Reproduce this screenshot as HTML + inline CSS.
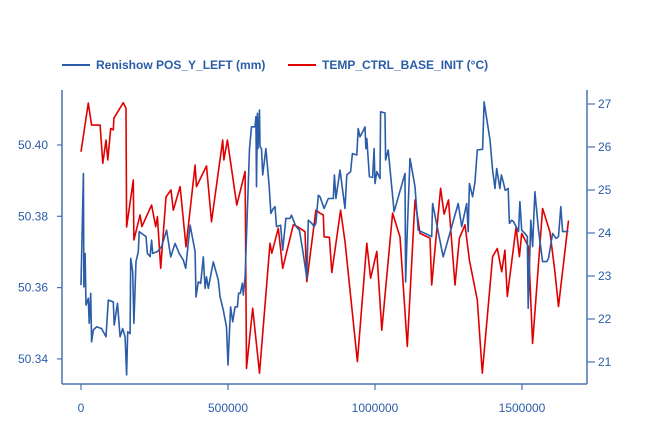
<!DOCTYPE html>
<html><head><meta charset="utf-8"><style>
body{margin:0;background:#fff;}
svg{display:block;font-family:"Liberation Sans",sans-serif;}
</style></head><body>
<svg id="chart" width="645" height="440">
<g id="legend">
 <g>
  <line x1="62" y1="65" x2="90" y2="65" stroke="#2a5ca8" stroke-width="2"/>
  <text x="96" y="69" font-size="12" font-weight="bold" fill="#2a5ca8">Renishow POS_Y_LEFT (mm)</text>
 </g>
 <g>
  <line x1="288" y1="65" x2="316" y2="65" stroke="#e00000" stroke-width="2"/>
  <text x="322" y="69" font-size="12" font-weight="bold" fill="#2a5ca8">TEMP_CTRL_BASE_INIT (°C)</text>
 </g>
</g>
<g id="axes"></g>
<g id="series"></g>
</svg>
<script>
const xTicks=[0,500000,1000000,1500000];
const xTickLabels=["0","500000","1000000","1500000"];
const leftTicks=[50.34,50.36,50.38,50.40];
const leftTickLabels=["50.34","50.36","50.38","50.40"];
const rightTicks=[21,22,23,24,25,26,27];
const rightTickLabels=["21","22","23","24","25","26","27"];
const posX=[0,8,10,14,17,25,28,33,36,42,53,70,85,93,110,113,124,133,142,150,155,159,167,169,176,180,187,195,198,206,221,226,235,240,244,260,274,291,305,320,334,348,356,371,388,391,399,407,416,422,427,433,450,467,473,484,495,500,509,516,524,532,536,542,549,552,558,573,580,592,595,597,600,602,607,609,614,618,629,640,646,654,660,665,679,686,697,711,716,730,743,754,768,773,785,793,799,807,813,827,841,858,862,867,881,898,904,917,923,938,943,949,958,966,969,972,981,992,997,1000,1006,1017,1019,1034,1036,1045,1065,1102,1104,1110,1119,1136,1147,1193,1196,1232,1283,1295,1312,1317,1321,1332,1340,1348,1366,1371,1391,1400,1408,1414,1425,1430,1436,1443,1453,1457,1465,1471,1480,1488,1493,1499,1510,1518,1521,1530,1536,1544,1556,1570,1584,1590,1604,1616,1624,1632,1638,1658];
const posY=[50.3607,50.3920,50.3602,50.3696,50.3551,50.3570,50.3500,50.3584,50.3448,50.3481,50.3490,50.3485,50.3462,50.3565,50.3560,50.3495,50.3556,50.3462,50.3485,50.3462,50.3355,50.3476,50.3471,50.3682,50.3644,50.3500,50.3673,50.3701,50.3757,50.3752,50.3743,50.3696,50.3687,50.3733,50.3696,50.3701,50.3715,50.3761,50.3686,50.3724,50.3696,50.3677,50.3654,50.3775,50.3701,50.3574,50.3616,50.3612,50.3686,50.3598,50.3630,50.3598,50.3672,50.3621,50.3574,50.3537,50.3490,50.3383,50.3546,50.3504,50.3546,50.3546,50.3584,50.3584,50.3612,50.3579,50.3630,50.3990,50.4051,50.4051,50.4079,50.3883,50.4089,50.3990,50.4098,50.3995,50.3990,50.3916,50.3990,50.3883,50.3808,50.3822,50.3827,50.3771,50.3775,50.3705,50.3794,50.3794,50.3803,50.3773,50.3761,50.3705,50.3626,50.3789,50.3780,50.3771,50.3780,50.3859,50.3855,50.3822,50.3850,50.3850,50.3916,50.3850,50.3930,50.3822,50.3916,50.3925,50.3976,50.3972,50.4046,50.4023,50.4037,50.4051,50.3990,50.4018,50.3911,50.3909,50.3990,50.3892,50.3925,50.3906,50.4093,50.4090,50.3958,50.3986,50.3813,50.3920,50.3616,50.3761,50.3962,50.3883,50.3761,50.3743,50.3836,50.3686,50.3836,50.3771,50.3836,50.3757,50.3892,50.3855,50.3897,50.3986,50.3988,50.4121,50.4014,50.3930,50.3878,50.3934,50.3878,50.3916,50.3897,50.3873,50.3878,50.3780,50.3789,50.3785,50.3771,50.3757,50.3841,50.3761,50.3752,50.3743,50.3542,50.3789,50.3715,50.3869,50.3761,50.3673,50.3673,50.3682,50.3752,50.3738,50.3743,50.3827,50.3757,50.3757];
const tempX=[0,25,36,65,74,85,91,101,110,112,144,153,155,178,180,201,207,240,254,260,271,289,306,314,337,357,388,393,427,444,482,486,498,530,558,563,584,607,643,649,671,686,722,736,762,768,799,813,824,827,845,853,883,898,940,972,985,1006,1023,1060,1085,1110,1136,1153,1187,1193,1223,1235,1250,1272,1287,1306,1321,1348,1365,1400,1416,1431,1442,1450,1480,1491,1499,1522,1536,1570,1595,1612,1624,1658];
const tempY=[25.89,27.02,26.51,26.51,25.62,26.16,25.70,26.43,26.40,26.67,27.03,26.90,24.14,25.23,23.84,24.42,24.15,24.65,24.15,24.38,23.18,24.84,25.00,24.53,25.08,23.68,25.58,25.08,25.56,24.26,26.16,25.70,26.16,24.65,25.43,20.85,22.25,20.74,23.76,23.53,24.11,23.18,24.19,24.15,24.03,22.87,24.53,24.46,24.42,23.91,23.90,23.08,24.53,23.80,21.01,23.76,22.95,23.57,21.74,24.46,23.91,21.36,24.77,23.99,23.88,22.79,25.04,24.44,24.77,22.79,23.88,24.19,23.37,22.44,20.74,23.45,23.64,23.10,23.60,22.52,24.14,23.45,23.99,23.68,21.43,24.57,24.03,23.10,22.29,24.29];

const NS="http://www.w3.org/2000/svg";
const X0=62,X1=587,Y0=384,YT=90;
const sx=v=>81+v*147/500000;
const syL=v=>145+(50.40-v)*3565;
const syR=v=>104+(27-v)*43;
const axisColor="#4a72b0",textColor="#2a5ca8";
function mk(tag,attrs,parent){const e=document.createElementNS(NS,tag);for(const k in attrs)e.setAttribute(k,attrs[k]);parent.appendChild(e);return e;}
const axes=document.getElementById('axes');
let a=mk('line',{x1:X0,y1:YT,x2:X0,y2:Y0,stroke:axisColor,'stroke-width':1.5},axes);


a=mk('line',{x1:X1,y1:YT,x2:X1,y2:Y0,stroke:axisColor,'stroke-width':1.5},axes);


a=mk('line',{x1:X0,y1:Y0,x2:X1,y2:Y0,stroke:axisColor,'stroke-width':1.5},axes);


xTicks.forEach((v,i)=>{
 const t=mk('line',{x1:sx(v),y1:Y0,x2:sx(v),y2:Y0+6,stroke:axisColor,'stroke-width':1.2},axes);
 
 
 const l=mk('text',{x:sx(v),y:Y0+28,'font-size':12,fill:textColor,'text-anchor':'middle'},axes);
 l.textContent=xTickLabels[i];
 
 
});
leftTicks.forEach((v,i)=>{
 const t=mk('line',{x1:X0-5,y1:syL(v),x2:X0,y2:syL(v),stroke:axisColor,'stroke-width':1.2},axes);
 
 
 const l=mk('text',{x:48,y:syL(v)+4,'font-size':12,fill:textColor,'text-anchor':'end'},axes);
 l.textContent=leftTickLabels[i];
 
 
});
rightTicks.forEach((v,i)=>{
 const t=mk('line',{x1:X1,y1:syR(v),x2:X1+8,y2:syR(v),stroke:axisColor,'stroke-width':1.2},axes);
 
 
 const l=mk('text',{x:598,y:syR(v)+4,'font-size':12,fill:textColor,'text-anchor':'start'},axes);
 l.textContent=rightTickLabels[i];
 
 
});
const series=document.getElementById('series');
let d=tempX.map((v,i)=>(i?'L':'M')+sx(v*1000).toFixed(1)+','+syR(tempY[i]).toFixed(1)).join('');
let p=mk('path',{d:d,fill:'none',stroke:'#e00000','stroke-width':1.6,'stroke-linejoin':'round'},series);


d=posX.map((v,i)=>(i?'L':'M')+sx(v*1000).toFixed(1)+','+syL(posY[i]).toFixed(1)).join('');
p=mk('path',{d:d,fill:'none',stroke:'#2a5ca8','stroke-width':1.6,'stroke-linejoin':'round'},series);


</script>
</body></html>
